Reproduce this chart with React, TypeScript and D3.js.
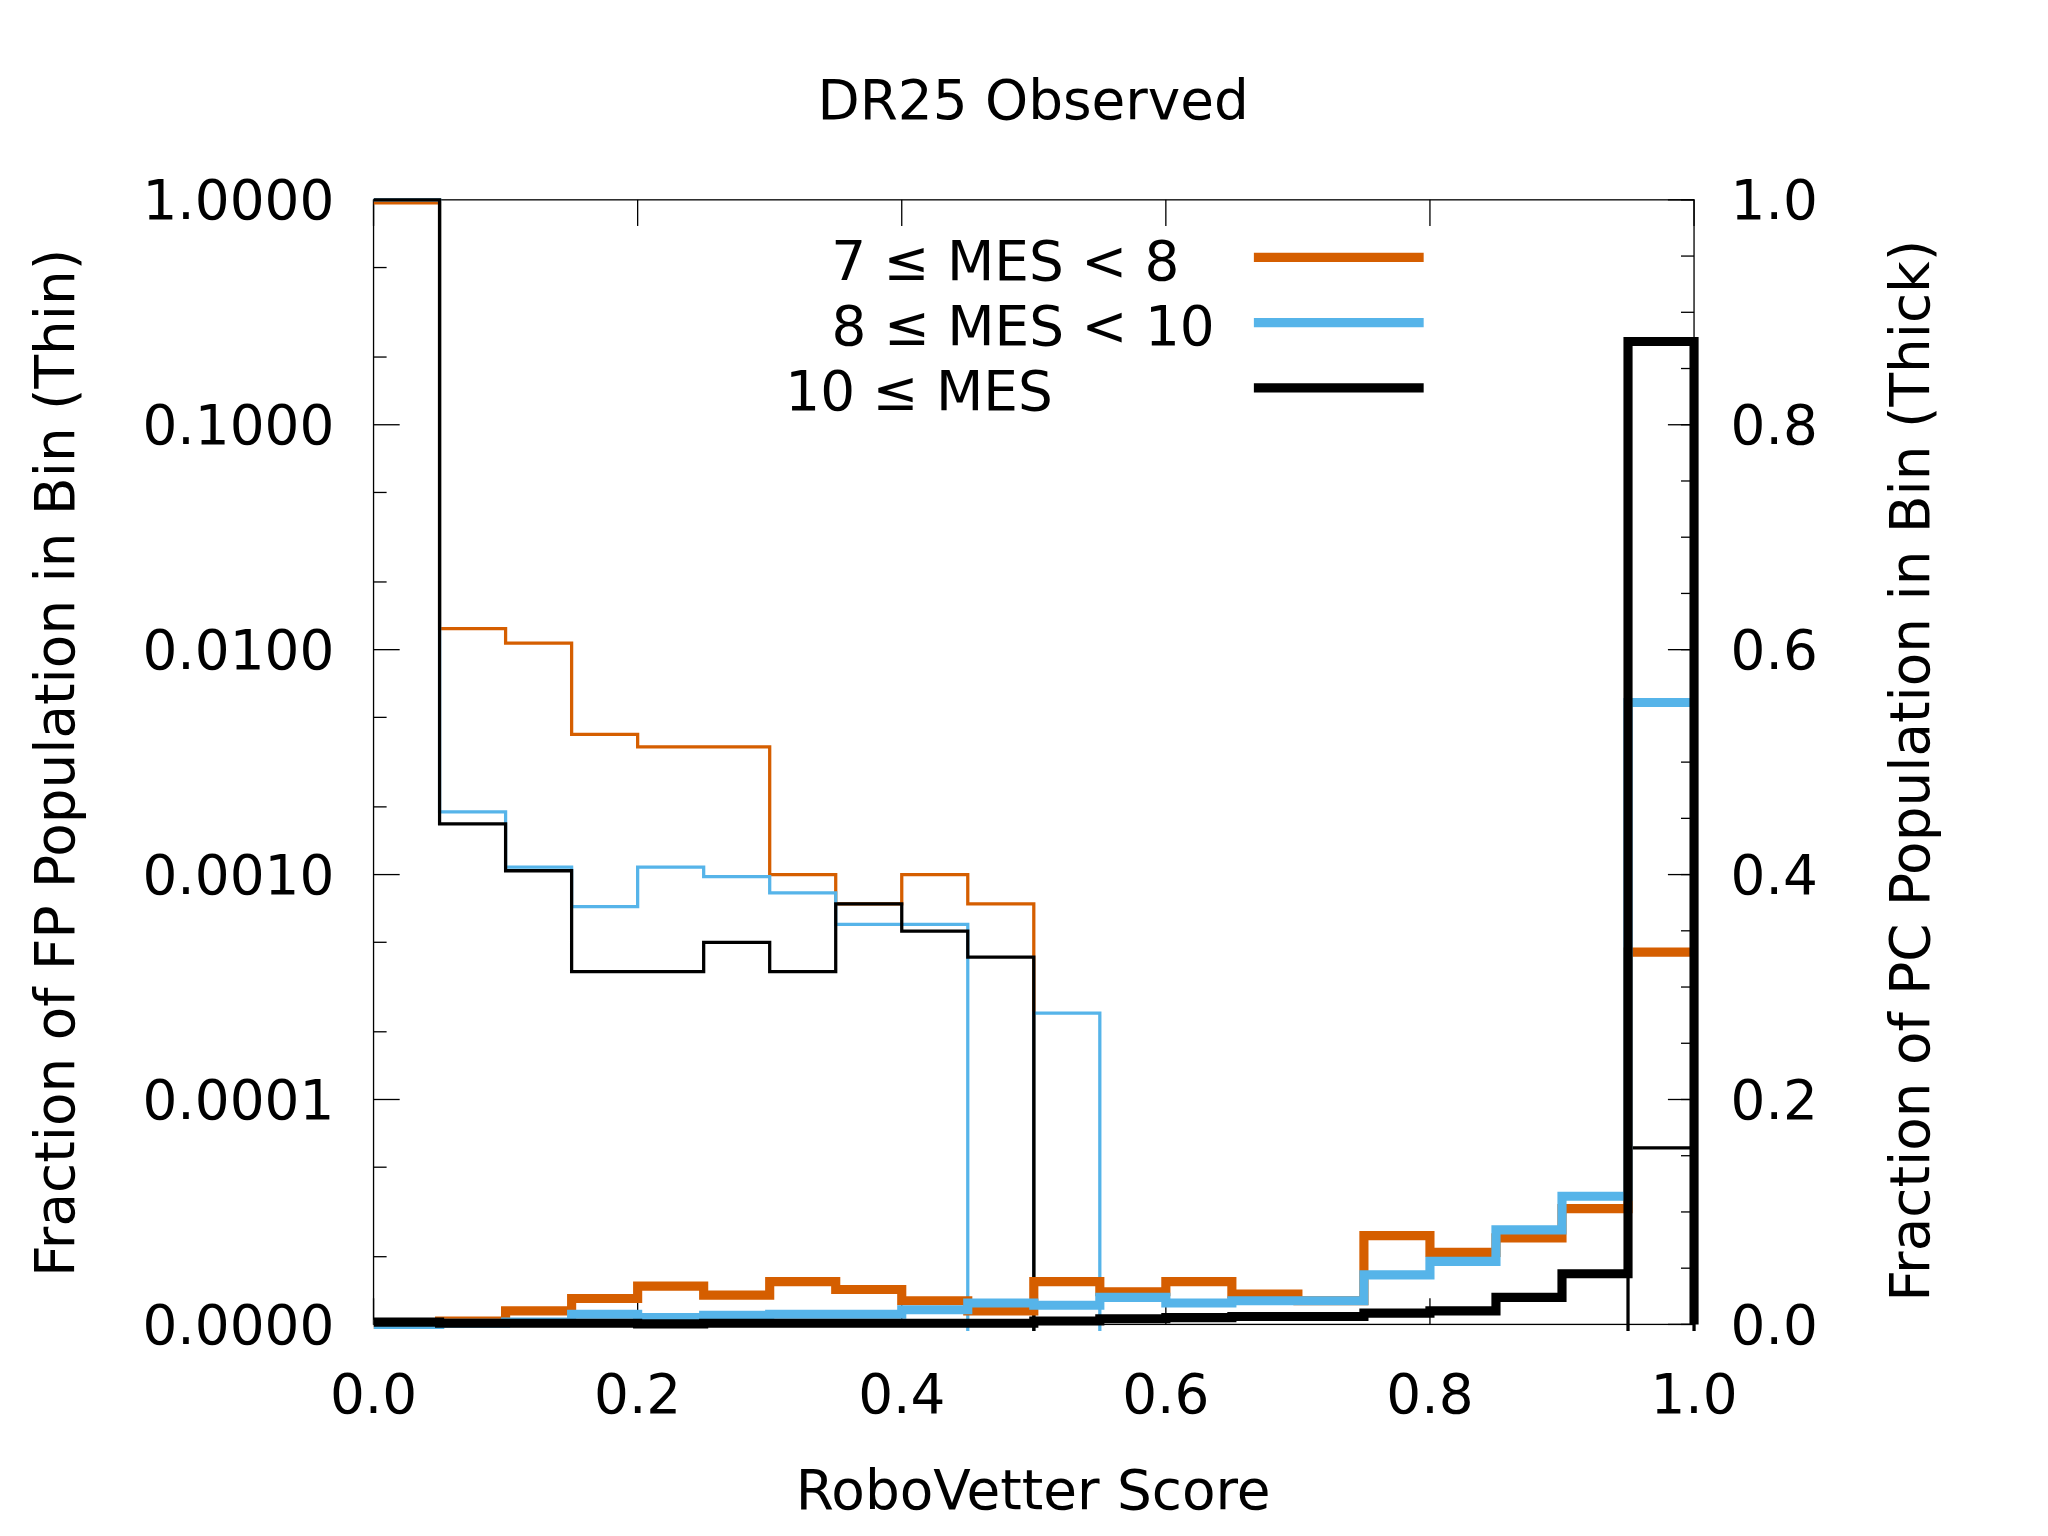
import React from "react";
import * as d3 from "d3";

const binEdges = d3.range(0, 21).map((i) => i * 0.05);
const thinOrange = [0.97, 0.0124, 0.0107, 0.0042, 0.0037, 0.0037, 0.001, 0.00074, 0.001, 0.00074, 0, 0, 0, 0, 0, 0, 0, 0, 0, 0];
const thinBlue = [1.0, 0.0019, 0.00108, 0.00072, 0.00108, 0.00098, 0.00083, 0.0006, 0.0006, 0, 0.000242, 0, 0, 0, 0, 0, 0, 0, 0, 0];
const thinBlack = [1.0, 0.00168, 0.00104, 0.00037, 0.00037, 0.0005, 0.00037, 0.00074, 0.00056, 0.00043, 0, 0, 0, 0, 0, 0, 0, 0, 0, 0.000061];
const thickOrange = [0, 0.003, 0.012, 0.023, 0.034, 0.026, 0.038, 0.031, 0.021, 0.012, 0.038, 0.029, 0.038, 0.027, 0.021, 0.079, 0.064, 0.077, 0.103, 0.331];
const thickBlue = [0, 0.001, 0.002, 0.009, 0.006, 0.008, 0.009, 0.009, 0.013, 0.019, 0.017, 0.024, 0.019, 0.021, 0.021, 0.044, 0.056, 0.084, 0.114, 0.553];
const thickBlack = [0.002, 0.001, 0.001, 0.001, 0.0005, 0.001, 0.001, 0.001, 0.001, 0.001, 0.003, 0.005, 0.006, 0.007, 0.007, 0.01, 0.012, 0.024, 0.045, 0.874];
const xTicks = [0, 0.2, 0.4, 0.6, 0.8, 1.0];
const yLeftTicks = [1e-5, 1e-4, 1e-3, 1e-2, 1e-1, 1];
const yRightTicks = [0, 0.2, 0.4, 0.6, 0.8, 1.0];
const legend = [
  { label: "7 ≤ MES < 8", color: "#d55e00" },
  { label: "8 ≤ MES < 10", color: "#56b4e9" },
  { label: "10 ≤ MES", color: "#000000" },
];

const L = 286, R = 1297, T = 153, B = 1014;
const x = d3.scaleLinear().domain([0, 1]).range([L, R]);
const yl = d3.scaleLog().domain([1e-5, 1]).range([B, T]);
const yr = d3.scaleLinear().domain([0, 1]).range([B, T]);
const font = "DejaVu Sans, sans-serif";
const FS = 42;

function stepPath(vals: number[], y: (v: number) => number, dropEnd: boolean) {
  const pts: [number, number][] = [];
  vals.forEach((v, i) => {
    const yy = y(v);
    pts.push([x(binEdges[i]), yy]);
    pts.push([x(binEdges[i + 1]), yy]);
  });
  if (dropEnd) pts.push([x(1), y(0)]);
  return d3.line()(pts) || "";
}
const logY = (v: number) => (v <= 1e-5 ? B + 20 : yl(v));

export default function App() {
  const minorLog: number[] = [];
  for (let e = -5; e < 0; e++) { minorLog.push(2 * 10 ** e, 5 * 10 ** e); }
  const minorR = d3.range(0, 1.0001, 0.05);
  return (
    <svg width={2048} height={1536} viewBox="0 0 1568 1176" style={{ position: "absolute", left: 0, top: 0, background: "#fff" }} fontFamily={font}>
      <defs>
        <clipPath id="c"><rect x={L} y={T - 5} width={R - L + 10} height={B - T + 10} /></clipPath>
      </defs>
      <rect x={0} y={0} width={1568} height={1176} fill="#fff" />
      <text x={791} y={91} fontSize={FS} textAnchor="middle">DR25 Observed</text>
      <rect x={L} y={T} width={R - L} height={B - T} fill="none" stroke="#000" strokeWidth={1} />
      {xTicks.map((t) => (
        <g key={"x" + t}>
          <line x1={x(t)} x2={x(t)} y1={B} y2={B - 20} stroke="#000" />
          <line x1={x(t)} x2={x(t)} y1={T} y2={T + 20} stroke="#000" />
          <text x={x(t)} y={B + 68} fontSize={FS} textAnchor="middle">{t.toFixed(1)}</text>
        </g>
      ))}
      {yLeftTicks.map((t) => (
        <g key={"l" + t}>
          <line x1={L} x2={L + 20} y1={yl(t)} y2={yl(t)} stroke="#000" />
          <text x={L - 30} y={yl(t) + 15} fontSize={FS} textAnchor="end">{t === 1e-5 ? "0.0000" : t.toFixed(4)}</text>
        </g>
      ))}
      {minorLog.map((t) => (
        <line key={"ml" + t} x1={L} x2={L + 10} y1={yl(t)} y2={yl(t)} stroke="#000" />
      ))}
      {yRightTicks.map((t) => (
        <g key={"r" + t}>
          <line x1={R} x2={R - 20} y1={yr(t)} y2={yr(t)} stroke="#000" />
          <text x={R + 28} y={yr(t) + 15} fontSize={FS} textAnchor="start">{t.toFixed(1)}</text>
        </g>
      ))}
      {minorR.map((t) => (
        <line key={"mr" + t} x1={R} x2={R - 10} y1={yr(t)} y2={yr(t)} stroke="#000" />
      ))}
      <text transform={`translate(57,584) rotate(-90)`} fontSize={FS} textAnchor="middle">Fraction of FP Population in Bin (Thin)</text>
      <text transform={`translate(1477,590) rotate(-90)`} fontSize={FS} textAnchor="middle">Fraction of PC Population in Bin (Thick)</text>
      <text x={791} y={1155} fontSize={FS} textAnchor="middle">RoboVetter Score</text>
      <g clipPath="url(#c)" fill="none" strokeLinejoin="miter">
        <path d={stepPath(thinOrange, logY, false)} stroke="#d55e00" strokeWidth={2.5} />
        <path d={stepPath(thinBlue, logY, false)} stroke="#56b4e9" strokeWidth={2.5} />
        <path d={stepPath(thinBlack, logY, true)} stroke="#000" strokeWidth={2.5} />
        <path d={stepPath(thickOrange, yr, false)} stroke="#d55e00" strokeWidth={7} />
        <path d={stepPath(thickBlue, yr, false)} stroke="#56b4e9" strokeWidth={7} />
        <path d={stepPath(thickBlack, yr, true)} stroke="#000" strokeWidth={7} />
      </g>
      {legend.map((d, i) => (
        <g key={d.label}>
          <text x={i === 2 ? 806 : i === 0 ? 903 : 930} y={214 + i * 50} fontSize={FS} textAnchor="end">{d.label}</text>
          <line x1={960} x2={1090} y1={197 + i * 50} y2={197 + i * 50} stroke={d.color} strokeWidth={7} />
        </g>
      ))}
    </svg>
  );
}
